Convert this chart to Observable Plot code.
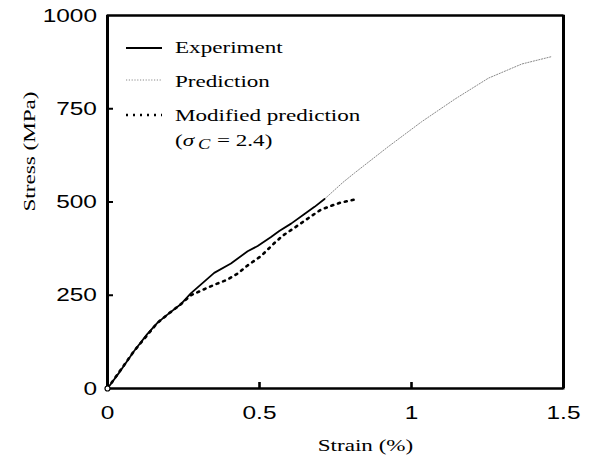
<!DOCTYPE html>
<html>
<head>
<meta charset="utf-8">
<script src="https://cdn.jsdelivr.net/npm/d3@7"></script>
<script src="https://cdn.jsdelivr.net/npm/@observablehq/plot@0.6"></script>
<style>
  body { margin: 0; background: #fff; }
</style>
</head>
<body>
<div id="chart"></div>
<script>
// Stress–strain curves: measured response, model prediction and the modified prediction
const experimentStrain = [0, 0.045, 0.087, 0.13, 0.164, 0.2, 0.24, 0.274, 0.351, 0.406, 0.461, 0.494, 0.538, 0.565, 0.604, 0.648, 0.681, 0.714];
const experimentStress = [0, 50, 100, 145, 176, 200, 225, 255, 310, 335, 368, 382, 406, 422, 442, 468, 487, 508];

const predictionStrain = [0.714, 0.775, 0.813, 0.923, 1.033, 1.143, 1.253, 1.363, 1.462];
const predictionStress = [508, 553, 578, 648, 715, 776, 832, 870, 890];

const modifiedStrain = [0, 0.087, 0.164, 0.2, 0.24, 0.274, 0.307, 0.351, 0.395, 0.428, 0.461, 0.505, 0.549, 0.577, 0.626, 0.67, 0.703, 0.747, 0.769, 0.822];
const modifiedStress = [0, 100, 176, 200, 225, 250, 262, 278, 292, 308, 330, 355, 390, 410, 437, 462, 480, 493, 499, 508];

const xTicks = [0, 0.5, 1, 1.5];
const yTicks = [0, 250, 500, 750, 1000];
const legendLabels = ["Experiment", "Prediction", "Modified prediction"];
const sigmaC = 2.4;

const rows = (xs, ys) => xs.map((x, i) => ({strain: x, stress: ys[i]}));
const experiment = rows(experimentStrain, experimentStress);
const prediction = rows(predictionStrain, predictionStress);
const modified = rows(modifiedStrain, modifiedStress);

const SERIF = "'Liberation Serif', 'Times New Roman', serif";
const SANS = "'Liberation Sans', Arial, sans-serif";

const seriesStyles = [
  {stroke: "#000", strokeWidth: 1.8, dash: null},
  {stroke: "#8a8a8a", strokeWidth: 1, dash: "1.2 1.6"},
  {stroke: "#000", strokeWidth: 2.6, dash: "2 5"}
];

const W = 589, H = 467;
const M = {top: 15, right: 26, bottom: 79, left: 107};
const innerW = W - M.left - M.right;
const innerH = H - M.top - M.bottom;
const tickLen = 6;
const yLabelPad = 10;
const typeStretch = 1.32;

// Stress tick values, placed with the y scale left of the frame
function stressTickLabels(index, scales, values, dims) {
  const left = (dims && dims.marginLeft) || M.left;
  const g = d3.create("svg:g")
    .attr("font-family", SANS)
    .attr("font-size", 18.5)
    .attr("fill", "#000");
  yTicks.forEach(v => {
    g.append("text")
      .attr("class", "stress-tick")
      .attr("text-anchor", "start")
      .attr("x", left - yLabelPad)
      .attr("y", scales.y(v))
      .attr("dy", "0.36em")
      .text(String(v));
  });
  return g.node();
}

// Legend drawn in the upper-left corner of the frame
function legendMark(index, scales, values, dims) {
  const left = (dims && dims.marginLeft) || M.left;
  const top = (dims && dims.marginTop) || M.top;
  const g = d3.create("svg:g")
    .attr("font-family", SERIF)
    .attr("font-size", 17.5)
    .attr("text-anchor", "start")
    .attr("fill", "#000");
  const lineY = [33, 65, 100];
  const textY = [38.5, 72.5, 106.5];
  legendLabels.forEach((label, i) => {
    const s = seriesStyles[i];
    const ln = g.append("line")
      .attr("x1", left + 19).attr("x2", left + 55)
      .attr("y1", top + lineY[i]).attr("y2", top + lineY[i])
      .attr("stroke", s.stroke)
      .attr("stroke-width", s.strokeWidth);
    if (s.dash) ln.attr("stroke-dasharray", s.dash);
    g.append("text")
      .attr("x", left + 68).attr("y", top + textY[i])
      .text(label);
  });
  const t = g.append("text").attr("x", left + 68).attr("y", top + 131.5);
  t.append("tspan").text("(");
  t.append("tspan").attr("font-style", "italic").text("σ");
  t.append("tspan").attr("font-style", "italic").attr("font-size", 14).attr("dx", 3).attr("dy", 3).text("C");
  t.append("tspan").attr("dx", 5).attr("dy", -3).text(`= ${sigmaC})`);
  return g.node();
}

const chart = Plot.plot({
  width: W,
  height: H,
  marginTop: M.top,
  marginRight: M.right,
  marginBottom: M.bottom,
  marginLeft: M.left,
  style: {background: "#fff", fontFamily: SANS, color: "#000"},
  x: {domain: [0, 1.5], axis: null},
  y: {domain: [0, 1000], axis: null},
  marks: [
    // tick labels
    Plot.axisX(xTicks, {tickSize: 0, tickPadding: 17, fontSize: 18.5, fontFamily: SANS, tickFormat: d => String(d), label: null}),
    stressTickLabels,
    // inward tick marks
    Plot.ruleX(xTicks.slice(1, -1), {x: d => d, insetTop: innerH - tickLen, stroke: "#000", strokeWidth: 2.6}),
    Plot.ruleY(yTicks.slice(1, -1), {y: d => d, insetRight: innerW - tickLen, stroke: "#000", strokeWidth: 2}),
    // curves
    Plot.line(prediction, {x: "strain", y: "stress", stroke: seriesStyles[1].stroke, strokeWidth: seriesStyles[1].strokeWidth, strokeDasharray: seriesStyles[1].dash}),
    Plot.line(modified, {x: "strain", y: "stress", stroke: seriesStyles[2].stroke, strokeWidth: seriesStyles[2].strokeWidth, strokeDasharray: seriesStyles[2].dash}),
    Plot.line(experiment, {x: "strain", y: "stress", stroke: seriesStyles[0].stroke, strokeWidth: seriesStyles[0].strokeWidth}),
    // box frame: thin outline plus heavier sides
    Plot.frame({stroke: "#000", strokeWidth: 2}),
    Plot.ruleX([0, 1.5], {x: d => d, stroke: "#000", strokeWidth: 3}),
    Plot.ruleY([0, 1000], {y: d => d, stroke: "#000", strokeWidth: 2}),
    Plot.dot(experiment.slice(0, 1), {x: "strain", y: "stress", r: 2.5, stroke: "#000", strokeWidth: 1.2, fill: "#fff"}),
    // axis titles
    Plot.text(["Strain (%)"], {frameAnchor: "bottom", dx: 30, dy: 62, lineAnchor: "bottom", fontFamily: SERIF, fontSize: 17.5, fill: "#000"}),
    Plot.text(["Stress (MPa)"], {frameAnchor: "left", dx: -73, dy: 9.5, rotate: -90, lineAnchor: "bottom", fontFamily: SERIF, fontSize: 17.5, fill: "#000"}),
    legendMark
  ]
});

document.getElementById("chart").append(chart);

// The type is set wide: stretch every label along its own baseline,
// about its anchor point so anchored edges stay where they are.
d3.select(chart).selectAll("text").each(function () {
  if (this.classList.contains("stress-tick")) {
    // right-align the stretched value just left of the frame
    const right = +this.getAttribute("x");
    let len = this.getComputedTextLength();
    if (!(len > 0)) len = this.getBBox().width;
    const x = right - len * typeStretch;
    this.setAttribute("x", x.toFixed(1));
    this.setAttribute("transform", `translate(${x.toFixed(1)},0) scale(${typeStretch},1) translate(${(-x).toFixed(1)},0)`);
    return;
  }
  const x0 = +(this.getAttribute("x") || 0);
  const t = this.getAttribute("transform") || "";
  this.setAttribute("transform", `${t} translate(${x0},0) scale(${typeStretch},1) translate(${-x0},0)`.trim());
});
</script>
</body>
</html>
